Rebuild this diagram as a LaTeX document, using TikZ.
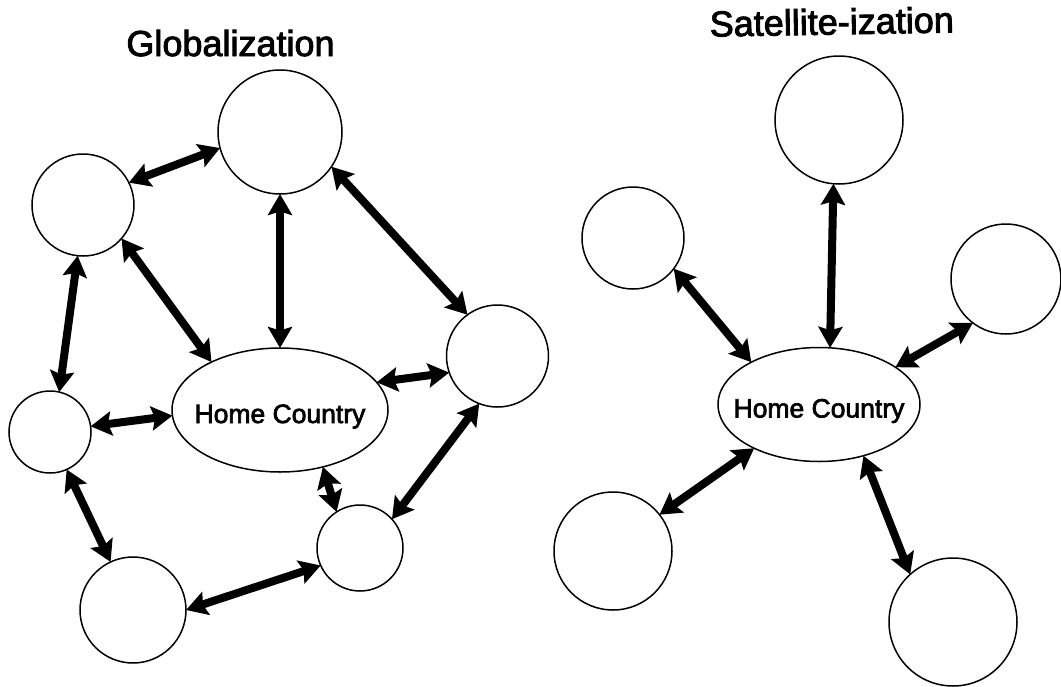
\documentclass[tikz,border=0pt]{standalone}
\usepackage{fontspec}
\setmainfont{Liberation Sans}
\newfontfamily\printfont[FakeBold=2.5]{Liberation Sans}
\usetikzlibrary{arrows.meta,shapes.geometric}
\begin{document}
\begin{tikzpicture}[x=1pt,y=-1pt,
  country/.style={circle,draw,line width=1.5pt,inner sep=0pt,outer sep=0pt},
  homebox/.style={ellipse,draw,line width=1.5pt,inner sep=0pt,outer sep=0pt,
    font=\printfont\fontsize{26.5}{30}\selectfont,text height=26pt,text depth=0pt},
  tradetip/.tip={Stealth[length=21pt,width=24pt,inset=3.5pt]},
  link/.style={line width=8pt,tradetip-tradetip},
  heading/.style={anchor=base,inner sep=0pt,font=\printfont\fontsize{36}{40}\selectfont}]
\useasboundingbox (0,0) rectangle (1061,686);
\fill[white] (0,0) rectangle (1061,686);

% ---- Globalization: a web of links ----
\node[heading] (tg) at (230.5,56) {Globalization};
\node[country,minimum size=124pt] (top) at (280,132) {};
\node[country,minimum size=102pt] (ul)  at (83,205) {};
\node[country,minimum size=82pt]  (lc)  at (50,432) {};
\node[country,minimum size=106pt] (bl)  at (133,610) {};
\node[country,minimum size=86pt]  (sm)  at (360,548) {};
\node[country,minimum size=102pt] (rc)  at (497.5,356) {};
\node[homebox,minimum width=216pt,minimum height=124pt] (home) at (280,410)
  {\makebox[0pt]{Home Country}};

\draw[link] (ul.26.2)  -- (top.195.6);
\draw[link] (top.south) -- (home.north);
\draw[link] (top.-34.9) -- (rc.126.4);
\draw[link] (ul.-41.2) -- (home.145.4);
\draw[link] (ul.264.3) -- (lc.77.4);
\draw[link] (lc.8.4)   -- (home.183.5);
\draw[link] (home.16.7) -- (rc.199.7);
\draw[link] (lc.-66)   -- (bl.115);
\draw[link] (bl.-0.9)  -- (sm.204.6);
\draw[link] (home.-53.7) -- (sm.123.3);
\draw[link] (sm.42.5)  -- (rc.249);

% ---- Satellite-ization: a hub and its spokes ----
\node[heading,rotate=1] (ts) at (832,34.5) {Satellite-ization};
\node[country,minimum size=128pt] (rtop)   at (839,120) {};
\node[country,minimum size=102pt] (rleft)  at (633,238) {};
\node[country,minimum size=110pt] (rright) at (1006,279) {};
\node[country,minimum size=118pt] (rbl)    at (613,551) {};
\node[country,minimum size=128pt] (rbr)    at (953,622) {};
\node[homebox,minimum width=202pt,minimum height=114pt] (rhome) at (819,404.5)
  {\makebox[0pt]{Home Country}};

\draw[link] (rtop.-95)     -- (rhome.79.6);
\draw[link] (rleft.-37.3)  -- (rhome.148.8);
\draw[link] (rright.-127.4) -- (rhome.26.2);
\draw[link] (rhome.-146.6) -- (rbl.38.3);
\draw[link] (rhome.-49.7)  -- (rbr.132.5);
\end{tikzpicture}
\end{document}
